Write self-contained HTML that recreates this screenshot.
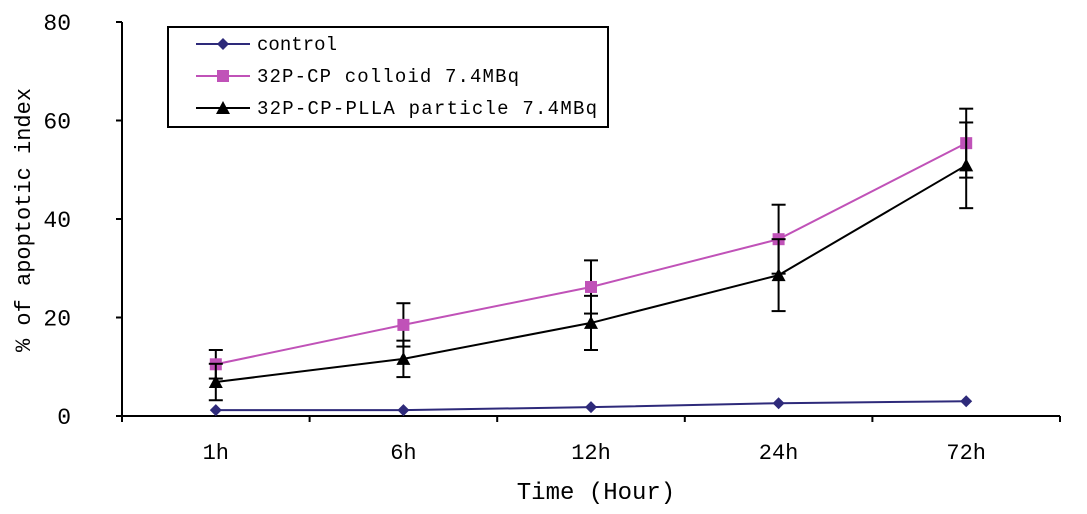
<!DOCTYPE html>
<html><head><meta charset="utf-8"><style>
body{margin:0;background:#fff;}
svg{display:block;font-family:"Liberation Mono",monospace;}
</style></head><body>
<svg id="chart" width="1087" height="514">
<g id="axes"></g><g id="marks"></g>
<g>
<rect x="168" y="27" width="440" height="100" fill="#fff" stroke="#000" stroke-width="2"/>
<line x1="196" y1="44" x2="250" y2="44" stroke="#2e2a7a" stroke-width="2"/>
<path d="M223 38 L229 44 L223 50 L217 44Z" fill="#2e2a7a"/>
<text x="257" y="50" font-size="19" textLength="80">control</text>
<line x1="196" y1="76" x2="250" y2="76" stroke="#c052b8" stroke-width="2"/>
<rect x="217" y="70" width="12" height="12" fill="#c052b8"/>
<text x="257" y="82" font-size="19" textLength="262">32P-CP colloid 7.4MBq</text>
<line x1="196" y1="108" x2="250" y2="108" stroke="#000" stroke-width="2"/>
<path d="M223 101 L230 114 L216 114Z" fill="#000"/>
<text x="257" y="114" font-size="19" textLength="340">32P-CP-PLLA particle 7.4MBq</text>
</g>
<text x="596" y="499" font-size="24" text-anchor="middle">Time (Hour)</text>
<text transform="translate(30,220) rotate(-90)" font-size="22" text-anchor="middle">% of apoptotic index</text>
</svg>
<script>
const categories=["1h","6h","12h","24h","72h"];
const yTicks=[0,20,40,60,80];
const control=[1.2,1.2,1.8,2.6,3.0];
const colloid=[10.5,18.5,26.2,35.9,55.4];
const colloidErr=[2.9,4.4,5.4,7.0,7.0];
const plla=[6.9,11.6,18.9,28.6,50.9];
const pllaErr=[3.7,3.7,5.5,7.3,8.7];
const NS="http://www.w3.org/2000/svg";
const X0=122,X1=1060,Y0=416,Y1=22;
const xs=i=>X0+(X1-X0)/categories.length*(i+0.5);
const ys=v=>Y0-(v/80)*(Y0-Y1);
function mk(t,a,p){const e=document.createElementNS(NS,t);for(const k in a)e.setAttribute(k,a[k]);p.appendChild(e);return e;}
const ax=document.getElementById('axes'),mg=document.getElementById('marks');
let yl=mk('line',{x1:X0,y1:Y1,x2:X0,y2:Y0,stroke:'#000','stroke-width':2},ax);


let xl=mk('line',{x1:X0,y1:Y0,x2:X1,y2:Y0,stroke:'#000','stroke-width':2},ax);


yTicks.forEach(v=>{mk('line',{x1:X0-6,y1:ys(v),x2:X0,y2:ys(v),stroke:'#000','stroke-width':2},ax);
const t=mk('text',{x:X0-51,y:ys(v)+8,'font-size':23,'text-anchor':'end'},ax);t.textContent=v;

});
for(let i=0;i<=categories.length;i++){const x=X0+(X1-X0)/categories.length*i;mk('line',{x1:x,y1:Y0,x2:x,y2:Y0+6,stroke:'#000','stroke-width':2},ax);}
categories.forEach((c,i)=>{const t=mk('text',{x:xs(i),y:Y0+43,'font-size':22,'text-anchor':'middle'},ax);t.textContent=c;

});
function series(vals,err,color,shape,name){
const g=mk('g',{},mg);


mk('polyline',{points:vals.map((v,i)=>xs(i)+','+ys(v)).join(' '),fill:'none',stroke:color,'stroke-width':2},g);
vals.forEach((v,i)=>{const x=xs(i),y=ys(v);
if(err){const a=ys(v+err[i]),b=ys(v-err[i]);
mk('line',{x1:x,y1:a,x2:x,y2:b,stroke:'#000','stroke-width':2},g);
mk('line',{x1:x-7,y1:a,x2:x+7,y2:a,stroke:'#000','stroke-width':2},g);
mk('line',{x1:x-7,y1:b,x2:x+7,y2:b,stroke:'#000','stroke-width':2},g);}
let m;
if(shape==='d')m=mk('path',{d:`M${x} ${y-6}L${x+6} ${y}L${x} ${y+6}L${x-6} ${y}Z`,fill:color},g);
else if(shape==='s')m=mk('rect',{x:x-6,y:y-6,width:12,height:12,fill:color},g);
else m=mk('path',{d:`M${x} ${y-7}L${x+7} ${y+6}L${x-7} ${y+6}Z`,fill:color},g);

});}
series(control,null,'#2e2a7a','d','series-control');
series(colloid,colloidErr,'#c052b8','s','series-colloid');
series(plla,pllaErr,'#000','t','series-plla');
</script>
</body></html>
